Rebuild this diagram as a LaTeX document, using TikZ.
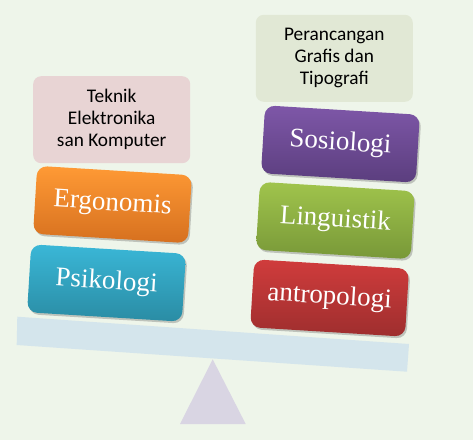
\documentclass[tikz,border=0pt]{standalone}
\usepackage{fontspec}
\setmainfont{Liberation Serif}
\newfontfamily\notefont{Carlito}
\usetikzlibrary{shadows}
\definecolor{bg}{HTML}{EEF5EA}
\definecolor{beam}{HTML}{D4E5EC}
\definecolor{pivot}{HTML}{D9D5E3}
\definecolor{pinkbox}{HTML}{E8D4D4}
\definecolor{greenbox}{HTML}{E1E8D5}
\definecolor{orangeT}{HTML}{FF9A35}
\definecolor{orangeB}{HTML}{D6701F}
\definecolor{cyanT}{HTML}{3AB7D7}
\definecolor{cyanB}{HTML}{2A8CA4}
\definecolor{purpleT}{HTML}{7E57A8}
\definecolor{purpleB}{HTML}{5B3E7E}
\definecolor{limeT}{HTML}{A0C44C}
\definecolor{limeB}{HTML}{789838}
\definecolor{redT}{HTML}{D03C3C}
\definecolor{redB}{HTML}{9E2E2E}
\begin{document}
\begin{tikzpicture}[x=1pt,y=-1pt,
  disc/.style={rounded corners=10pt, minimum width=155pt, minimum height=68pt,
    rotate=-3.5, text=white, inner sep=0pt,
    font=\fontsize{27}{30}\selectfont, text height=18pt, text depth=6pt,
    drop shadow={shadow xshift=1.5pt, shadow yshift=-2pt, opacity=0.35, fill=black!60}},
  notebox/.style={rounded corners=8pt, minimum width=157pt, minimum height=87pt,
    align=center, inner sep=0pt, text=black,
    font=\notefont\fontsize{19.3}{22}\selectfont}]
\useasboundingbox[fill=bg] (0,0) rectangle (473,440);
% beam and pivot
\fill[pivot] (212.7,359.3) -- (245.7,424) -- (180,424) -- cycle;
\fill[beam] (17.3,316.7) -- (409,344) -- (407,371.7) -- (16.7,345) -- cycle;
% left stack
\node[notebox, fill=pinkbox] (tek) at (111.7,119.7) {Teknik\\Elektronika\\san Komputer};
\node[disc, top color=orangeT, bottom color=orangeB] (erg) at (112.5,204.5) {Ergonomis};
\node[disc, top color=cyanT, bottom color=cyanB] (psi) at (106.5,283) {Psikologi};
% right stack
\node[notebox, fill=greenbox] (per) at (334.3,58.3) {Perancangan\\Grafis dan\\Tipografi};
\node[disc, top color=purpleT, bottom color=purpleB] (sos) at (340.4,144) {Sosiologi};
\node[disc, top color=limeT, bottom color=limeB] (lin) at (335.3,220.5) {Linguistik};
\node[disc, top color=redT, bottom color=redB] (ant) at (329.6,298) {antropologi};
\end{tikzpicture}
\end{document}
